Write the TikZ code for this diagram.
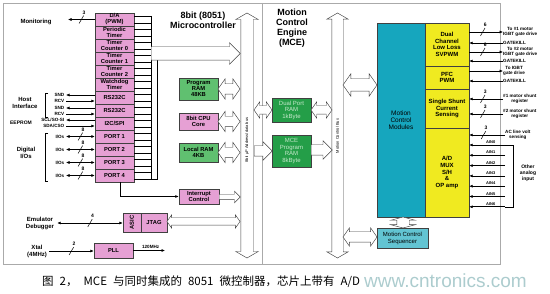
\documentclass[tikz,border=0pt]{standalone}
\usepackage{fontspec}
\usepackage{graphicx}
\setmainfont{Liberation Sans}
\newfontfamily\cjk{Noto Sans CJK SC}
\usepackage{tikz}
\usetikzlibrary{arrows.meta,shapes.arrows}

\definecolor{mcpink}{RGB}{230,160,212}
\definecolor{mcgreen}{RGB}{96,192,112}
\definecolor{mcdkgreen}{RGB}{36,158,72}
\definecolor{mccyan}{RGB}{22,166,190}
\definecolor{mcltcyan}{RGB}{98,196,210}
\definecolor{mcyellow}{RGB}{240,234,32}
\definecolor{framegray}{RGB}{170,170,170}
\definecolor{wmark}{RGB}{172,204,206}

\begin{document}
\begin{tikzpicture}[x=1pt, y=-1pt,
  every node/.style={font=\fontsize{5.8}{6}\selectfont\bfseries, align=center, inner sep=0pt},
  box/.style={draw=black!75, line width=.4pt},
  pinkbox/.style={box, fill=mcpink},
  greenbox/.style={box, fill=mcgreen, minimum width=39},
  dkgreenbox/.style={box, fill=mcdkgreen, minimum width=39, text=mcgreen!35!white, font=\fontsize{6}{6.5}\selectfont},
  yelbox/.style={box, fill=mcyellow, minimum width=44, font=\fontsize{6}{6.6}\selectfont\bfseries},
  ttl/.style={font=\fontsize{9}{10}\selectfont\bfseries},
  lbl/.style={font=\fontsize{6}{7}\selectfont\bfseries},
  sml/.style={font=\fontsize{4.6}{5}\selectfont\bfseries},
  sig/.style={-{Latex[length=3.5pt,width=3pt]}, line width=.6pt},
  sigboth/.style={{Latex[length=3.5pt,width=3pt]}-{Latex[length=3.5pt,width=3pt]}, line width=.6pt},
  busmark/.style={draw, line width=.5pt, minimum width=0pt, minimum height=9pt, rotate=-30, pos=.5},
  busnum/.style={pos=.5, font=\fontsize{5}{5}\selectfont\bfseries, above=5pt, xshift=2.5pt},
  hol/.style={draw=black!75, fill=white, line width=.45pt, inner xsep=0pt, minimum width=0pt},
  dbl/.style={hol, double arrow, double arrow tip angle=110},
  sgl/.style={hol, single arrow, single arrow tip angle=90}]

\useasboundingbox (0,0) rectangle (550,294);

\draw[framegray, line width=.6pt] (3,3) rectangle (500,264);
\draw[framegray, line width=.6pt] (262,3) -- (262,264);

\node[ttl] (uctitle) at (203,20) {8bit (8051)\\Microcontroller};
\node[ttl] (mcetitle) at (292,28) {Motion\\Control\\Engine\\(MCE)};

\foreach \t [count=\i] in {{D/A\\(PWM)},{Periodic\\Timer},{Timer\\Counter 0},{Timer\\Counter 1},{Timer\\Counter 2},{Watchdog\\Timer},{RS232C},{RS232C},{I2C/SPI},{PORT 1},{PORT 2},{PORT 3},{PORT 4}}
  \node[pinkbox, minimum width=39, minimum height=13] (c\i) at (114.5,6.5+13*\i) {\t};
\foreach \i in {1,...,13}
  \draw[line width=.4pt] (c\i.east) ++(0,-3.5) -| ++(17,7) -- ++(-17,0);

\draw[line width=.4pt] (151,16) -- (151,179) -- (157,179) -- (157,60);
\node[sgl, anchor=tail, minimum height=89, inner ysep=6.5, single arrow head extend=4] (tobus) at (151,53.5) {};

\node[dbl, rotate=90, double arrow tip angle=120, minimum height=245, inner ysep=6, double arrow head extend=5] (ucbus) at (247,135.5) {};
\node[font=\fontsize{4}{4}\selectfont, rotate=90] (ucbuslbl) at (247,140) {8bit µP Address/data bus};

\node[greenbox, minimum height=22] (pram) at (198.5,89) {Program\\RAM\\48KB};
\node[pinkbox, minimum width=39, minimum height=17] (cpu) at (198.5,121.5) {8bit CPU\\Core};
\node[greenbox, minimum height=19] (lram) at (198.5,152.5) {Local RAM\\4KB};
\node[pinkbox, minimum width=40, minimum height=15] (intc) at (199,196.5) {Interrupt\\Control};
\node[pinkbox, minimum width=18, minimum height=19] (asic) at (132,222.5) {\rotatebox{90}{ASIC}};
\node[pinkbox, minimum width=26, minimum height=19] (jtag) at (154,222.5) {JTAG};
\node[pinkbox, minimum width=39, minimum height=15] (pll) at (113.5,250.5) {PLL};

\node[dbl, minimum height=22, inner ysep=5, double arrow head extend=5] (pramarr) at (229,89) {};
\node[dbl, minimum height=22, inner ysep=5, double arrow head extend=5] (cpuarr) at (229,121.5) {};
\node[dbl, minimum height=22, inner ysep=5, double arrow head extend=5] (lramarr) at (229,152.5) {};
\node[sgl, anchor=tail, minimum height=21, inner ysep=2.5, single arrow head extend=3] (intcarr) at (219,197) {};
\node[dbl, minimum height=73, inner ysep=3.5, double arrow head extend=3] (jtagarr) at (203.5,221.5) {};

\draw[sig, line width=.9pt] ([xshift=5.5pt]c13.south) |- (intc.west);

\node[lbl] (monlbl) at (36,22) {Monitoring};
\coordinate (monend) at (68,19.5);
\draw[sig] (c1.west) -- (monend) node[busmark]{} node[busnum]{3};

\node[lbl] (host) at (25,103) {Host\\Interface};
\draw[line width=.4pt] (48,93) -| (45,117) -- (48,117);
\node[sml, anchor=east, inner xsep=1.5pt] (snd1) at (66,95) {SND};
\node[sml, anchor=east, inner xsep=1.5pt] (rcv1) at (66,101) {RCV};
\node[sml, anchor=east, inner xsep=1.5pt] (snd2) at (66,108) {SND};
\node[sml, anchor=east, inner xsep=1.5pt] (rcv2) at (66,114) {RCV};
\draw[sig] (c7.west |- snd1) -- (snd1);
\draw[sig] (rcv1) -- (c7.west |- rcv1);
\draw[sig] (c8.west |- snd2) -- (snd2);
\draw[sig] (rcv2) -- (c8.west |- rcv2);

\node[font=\fontsize{5}{5}\selectfont\bfseries] (eeprom) at (21,122.5) {EEPROM};
\node[sml, anchor=east, inner xsep=1.5pt] (scl) at (66,120) {SCL/SO-SI};
\node[sml, anchor=east, inner xsep=1.5pt] (sda) at (66,126) {SDA/CSO};
\draw[sig] (c9.west |- scl) -- (scl);
\draw[sig] (sda) -- (c9.west |- sda);

\node[lbl] (dio) at (26,153) {Digital\\I/Os};
\draw[line width=.4pt] (48,133) -| (45,181) -- (48,181);
\foreach \i in {10,...,13} {
  \node[sml, anchor=east, inner xsep=1.5pt] (io\i) at (66,{13*\i+6.5}) {I/Os};
  \draw[sigboth] (io\i) -- (c\i.west) node[busmark]{} node[busnum]{8};
}

\node[lbl, inner xsep=3pt] (emu) at (40,223) {Emulator\\Debugger};
\draw[sigboth] (emu) -- (emu -| asic.west) node[busmark]{} node[busnum]{4};
\node[lbl, inner xsep=2pt] (xtal) at (37,251) {Xtal\\(4MHz)};
\draw[sig] (xtal) -- (xtal -| pll.west) node[busmark]{} node[busnum]{2};
\coordinate (clkout) at (165,250.5);
\draw[sig] (pll) -- (clkout) node[sml, pos=.55, above=1.5pt] (clklbl) {120MHz};

\node[dbl, rotate=90, double arrow tip angle=120, minimum height=245, inner ysep=5.5, double arrow head extend=5] (cbus) at (337.5,135.5) {};
\node[font=\fontsize{4}{4}\selectfont, rotate=90] (cbuslbl) at (337.5,136) {Motion Control Bus};

\node[dkgreenbox, minimum height=24] (dpram) at (291.5,110) {Dual Port\\RAM\\1kByte};
\node[dkgreenbox, minimum height=32] (mcep) at (291.5,151) {MCE\\Program\\RAM\\8kByte};
\node[box, fill=mccyan, minimum width=48, minimum height=194, font=\fontsize{6.5}{7}\selectfont] (mcm) at (401,120) {Motion\\Control\\Modules};
\node[yelbox, minimum height=43] (pwm) at (447,44.5) {Dual\\Channel\\Low Loss\\SVPWM};
\node[yelbox, minimum height=23] (pfc) at (447,77.5) {PFC\\PWM};
\node[yelbox, minimum height=39] (shunt) at (447,108.5) {Single Shunt\\Current\\Sensing};
\node[yelbox, minimum height=89] (adc) at (447,172.5) {A/D\\MUX\\S/H\\\&\\OP amp};
\node[box, fill=mcltcyan, minimum width=51, minimum height=20, font=\fontsize{6}{7}\selectfont] (seq) at (402.5,238) {Motion Control\\Sequencer};

\node[dbl, minimum height=18, inner ysep=4, double arrow head extend=4] (dparr1) at (263,110) {};
\node[dbl, minimum height=21, inner ysep=4, double arrow head extend=4] (dparr2) at (321.5,110) {};
\node[sgl, anchor=tail, minimum height=18, inner ysep=5, single arrow head extend=4] (mcearr1) at (254,151) {};
\node[sgl, anchor=tail, minimum height=21, inner ysep=5, single arrow head extend=4] (mcearr2) at (311,150) {};
\node[dbl, minimum height=34, inner ysep=6, double arrow head extend=5] (mcmarr) at (360,85) {};
\node[dbl, minimum height=34, inner ysep=5, double arrow head extend=4] (seqarr) at (360,237) {};
\node[dbl, rotate=90, double arrow tip angle=150, minimum height=11, inner ysep=6, double arrow head extend=6] (mcmseq) at (403,222.5) {};

\node[sml, anchor=west] (to1) at (503,32) {To \#1 motor\\IGBT gate drive};
\draw[sig] (pwm.east |- to1) -- (to1) node[busmark, pos=.4]{} node[busnum, pos=.4]{6};
\node[sml, anchor=west] (gk1) at (503,43) {GATEKILL};
\draw[sig] (gk1) -- (pwm.east |- gk1);
\node[sml, anchor=west] (to2) at (503,52) {To \#2 motor\\IGBT gate drive};
\draw[sig] (pwm.east |- to2) -- (to2) node[busmark, pos=.4]{} node[busnum, pos=.4]{6};
\node[sml, anchor=west] (gk2) at (503,61) {GATEKILL};
\draw[sig] (gk2) -- (pwm.east |- gk2);
\node[sml, anchor=west] (to3) at (503,71) {To IGBT\\gate drive};
\draw[sig] (pfc.east |- to3) -- (to3);
\node[sml, anchor=west] (gk3) at (503,81) {GATEKILL};
\draw[sig] (gk3) -- (pfc.east |- gk3);
\node[sml, anchor=west] (sh1) at (503,99) {\#1 motor shunt\\register};
\draw[sig] (sh1) -- (shunt.east |- sh1) node[busmark, pos=.6]{} node[busnum, pos=.6]{3};
\node[sml, anchor=west] (sh2) at (503,114) {\#2 motor shunt\\register};
\draw[sig] (sh2) -- (shunt.east |- sh2) node[busmark, pos=.6]{} node[busnum, pos=.6]{3};
\node[sml, anchor=west] (acl) at (505,135) {AC line volt\\sensing};
\draw[sig] (acl) -- (adc.east |- acl) node[busmark, pos=.6]{} node[busnum, pos=.6]{3};

\foreach \i in {0,...,6} {
  \coordinate (ain\i) at (505,{145+10.3*\i});
  \draw[sig] (ain\i) -- (adc.east |- ain\i) node[pos=.4, above=1pt, font=\fontsize{4}{4}\selectfont\bfseries] {AIN\i};
}
\draw[line width=.4pt] (505,145) -| (513,206.8) -- (505,206.8);
\node[font=\fontsize{5}{6}\selectfont\bfseries] (other) at (528,173) {Other\\analog\\input};

\node[font=\cjk\fontsize{11.5}{12}\selectfont, anchor=west] (cap) at (42,282) {图\hspace{6pt}2，\hspace{6pt}MCE\hspace{6pt}与同时集成的\hspace{6pt}8051\hspace{6pt}微控制器，芯片上带有\hspace{6pt}A/D};
\node[font=\fontsize{19}{20}\selectfont, text=wmark, anchor=west] (wm) at (364,281) {www.cntronics.com};
\end{tikzpicture}
\end{document}
